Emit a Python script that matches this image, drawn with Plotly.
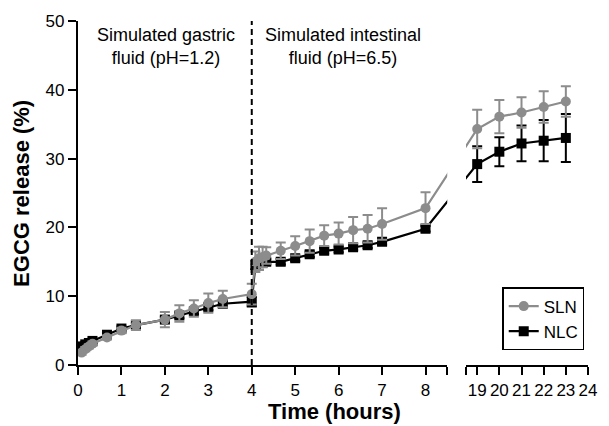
import plotly.graph_objects as go

# ---- data ----
time_h = [0.083, 0.167, 0.25, 0.333, 0.667, 1, 1.333, 2, 2.333, 2.667, 3, 3.333, 4,
          4.083, 4.167, 4.25, 4.333, 4.667, 5, 5.333, 5.667, 6, 6.333, 6.667, 7, 8,
          19, 20, 21, 22, 23]
sln = [1.8, 2.3, 2.7, 3.1, 4.0, 5.0, 5.8, 6.6, 7.5, 8.2, 9.0, 9.6, 10.3,
       15.0, 15.5, 15.7, 15.9, 16.6, 17.3, 18.0, 18.8, 19.1, 19.6, 19.8, 20.5, 22.8,
       34.3, 36.1, 36.7, 37.5, 38.3]
sln_err = [0.3, 0.3, 0.3, 0.3, 0.3, 0.4, 0.7, 1.1, 1.2, 1.2, 1.4, 1.2, 1.5,
           1.5, 1.7, 1.5, 1.2, 1.2, 1.4, 1.7, 1.5, 1.6, 1.9, 2.0, 2.3, 2.3,
           2.8, 2.4, 2.2, 2.3, 2.2]
nlc = [2.7, 3.0, 3.2, 3.5, 4.4, 5.3, 5.8, 6.6, 7.2, 7.8, 8.4, 8.9, 9.2,
       14.5, 14.8, 14.9, 15.0, 15.0, 15.5, 16.1, 16.6, 16.8, 17.1, 17.4, 17.9, 19.8,
       29.2, 31.0, 32.2, 32.6, 33.0]
nlc_err = [0.3, 0.3, 0.3, 0.3, 0.3, 0.3, 0.3, 0.4, 0.4, 0.4, 0.4, 0.4, 0.7,
           0.6, 0.5, 0.5, 0.4, 0.4, 0.4, 0.4, 0.4, 0.4, 0.4, 0.4, 0.4, 0.4,
           2.6, 2.1, 2.6, 3.0, 3.5]
left_ticks = [0, 1, 2, 3, 4, 5, 6, 7, 8]
right_ticks = [19, 20, 21, 22, 23, 24]
y_ticks = [0, 10, 20, 30, 40, 50]
phase_change = 4

# ---- broken axis geometry ----
R1 = (0, 8.5)
R2 = (18.5, 24)
D1 = (0.0, 0.724)
D2 = (0.761, 1.0)

def frac(x):
    if x <= R1[1]:
        return D1[0] + (x - R1[0]) / (R1[1] - R1[0]) * (D1[1] - D1[0])
    return D2[0] + (x - R2[0]) / (R2[1] - R2[0]) * (D2[1] - D2[0])

def to_axis(x, R, D):
    f = frac(x)
    return R[0] + (f - D[0]) / (D[1] - D[0]) * (R[1] - R[0])

x_left = [to_axis(t, R1, D1) for t in time_h]
x_right = [to_axis(t, R2, D2) for t in time_h]

GRAY = "#8c8c8c"
BLACK = "#000000"

fig = go.Figure()

series = [
    ("NLC", nlc, nlc_err, BLACK, "square", 10, 2),
    ("SLN", sln, sln_err, GRAY, "circle", 10, 1),
]
for name, vals, err, col, sym, msize, rank in series:
    for xs, xa, show in [(x_left, "x", True), (x_right, "x2", False)]:
        fig.add_trace(go.Scatter(
            x=xs, y=vals, xaxis=xa, yaxis="y", name=name,
            mode="lines+markers",
            line=dict(color=col, width=2.2),
            marker=dict(color=col, symbol=sym, size=msize),
            error_y=dict(type="data", array=err, visible=True, color=col,
                         thickness=2, width=5),
            showlegend=show, legendrank=rank, cliponaxis=True,
        ))

fig.add_shape(type="line", xref="x", yref="y", x0=phase_change, x1=phase_change,
              y0=0, y1=50, line=dict(color="black", width=2, dash="6px,4px"))

tickfont = dict(family="Liberation Sans, Arial, sans-serif", size=17, color="black")
axis_common = dict(showline=True, linecolor="black", linewidth=2.2, ticks="outside",
                   ticklen=8, tickwidth=2.2, tickcolor="black", showgrid=False,
                   zeroline=False, tickfont=tickfont)

fig.update_layout(
    width=609, height=426,
    margin=dict(l=78, r=13, t=20, b=61),
    plot_bgcolor="white", paper_bgcolor="white",
    font=dict(family="Liberation Sans, Arial, sans-serif", color="black"),
    xaxis=dict(domain=list(D1), range=list(R1), tickmode="array",
               tickvals=left_ticks + [R1[1]],
               ticktext=[str(t) for t in left_ticks] + [""], anchor="y", **axis_common),
    xaxis2=dict(domain=list(D2), range=list(R2), tickmode="array",
                tickvals=[R2[0]] + right_ticks,
                ticktext=[""] + [str(t) for t in right_ticks], anchor="y", **axis_common),
    yaxis=dict(range=[0, 50], tickmode="array", tickvals=y_ticks, anchor="x",
               **axis_common),
    legend=dict(x=0.993, xanchor="right", y=0.226, yanchor="top",
                bordercolor="black", borderwidth=1.3, bgcolor="white",
                font=dict(size=17, family="Liberation Sans, Arial, sans-serif"),
                tracegroupgap=0, itemwidth=30),
    showlegend=True,
)

fig.add_annotation(text="Simulated gastric<br>fluid (pH=1.2)", x=2.03, y=0.925,
                   xref="x", yref="paper", showarrow=False,
                   font=dict(size=18), xanchor="center", yanchor="middle")
fig.add_annotation(text="Simulated intestinal<br>fluid (pH=6.5)", x=6.09, y=0.925,
                   xref="x", yref="paper", showarrow=False,
                   font=dict(size=18), xanchor="center", yanchor="middle")
fig.add_annotation(text="<b>Time (hours)</b>", x=0.502, y=-0.135, xref="paper", yref="paper",
                   showarrow=False, font=dict(size=22), xanchor="center", yanchor="middle")
fig.add_annotation(text="<b>EGCG release (%)</b>", x=-0.112, y=0.5, xref="paper", yref="paper",
                   showarrow=False, font=dict(size=22), textangle=-90,
                   xanchor="center", yanchor="middle")

fig.write_html("out.html", config={"displayModeBar": False},
               post_script="document.body.style.margin='0px';")
